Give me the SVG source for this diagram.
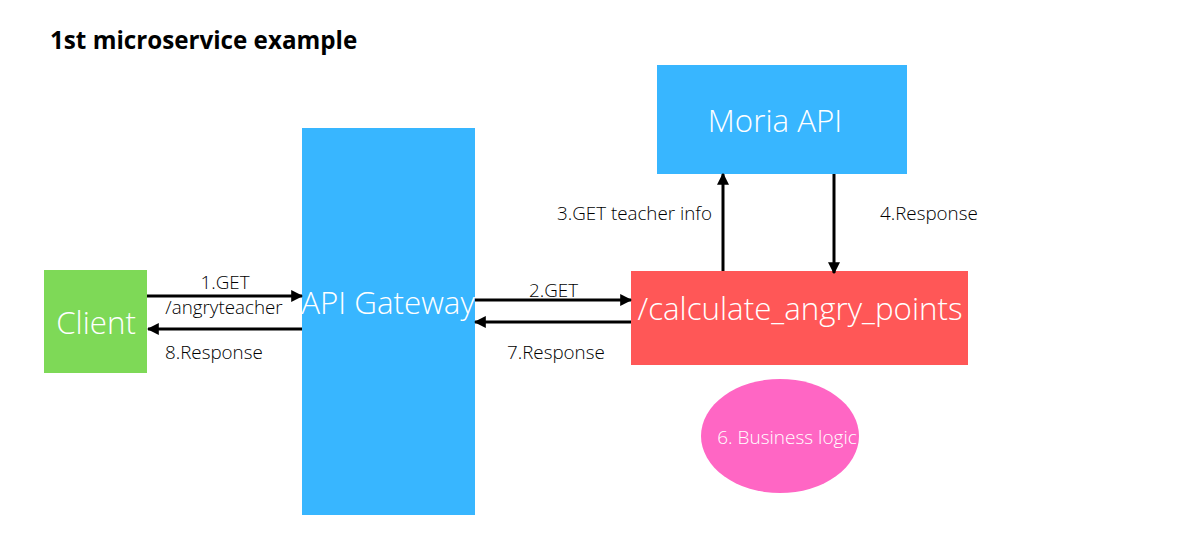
<svg xmlns="http://www.w3.org/2000/svg" width="1199" height="539" viewBox="0 0 1199 539">
<defs>
<marker id="ah" markerWidth="4" markerHeight="4" refX="3.6" refY="2" orient="auto" markerUnits="strokeWidth">
<path d="M0,0 L4,2 L0,4 Z" fill="#000"/>
</marker>
<style>
.big{font-family:"Open Sans","Noto Sans",sans-serif;fill:#fff;font-size:31.3px;font-weight:300;}
.lbl{font-family:"Open Sans","Noto Sans",sans-serif;fill:#000;font-size:18.8px;font-weight:300;}
.c{stroke:#000;stroke-width:3;fill:none;marker-end:url(#ah);}
</style>
</defs>
<rect width="1199" height="539" fill="#fff"/>
<text x="50" y="49" font-family="'Open Sans','Noto Sans',sans-serif" font-weight="bold" font-size="24.2" fill="#000">1st microservice example</text>
<g id="client">
<rect x="44" y="270" width="103" height="103" fill="#7ED957"/>
<text class="big" x="96" y="334" text-anchor="middle">Client</text>
</g>
<g id="gateway">
<rect x="302" y="128" width="173" height="387" fill="#38B6FF"/>
<text class="big" x="388" y="314" text-anchor="middle">API Gateway</text>
</g>
<g id="moria">
<rect x="657" y="65" width="250" height="109" fill="#38B6FF"/>
<text class="big" x="775" y="132" text-anchor="middle">Moria API</text>
</g>
<g id="calc">
<rect x="631" y="271" width="337" height="94" fill="#FF5757"/>
<text class="big" x="800" y="320" text-anchor="middle">/calculate_angry_points</text>
</g>
<g id="logic">
<ellipse cx="780" cy="436" rx="79" ry="57" fill="#FF66C4"/>
<text x="787" y="444" text-anchor="middle" font-family="'Open Sans','Noto Sans',sans-serif" font-size="19" font-weight="300" fill="#fff">6. Business logic</text>
</g>
<g id="connectors">
<line class="c" x1="147" y1="296" x2="302" y2="296"/>
<line class="c" x1="302" y1="329" x2="148" y2="329"/>
<line class="c" x1="475" y1="300" x2="631" y2="300"/>
<line class="c" x1="631" y1="322" x2="475" y2="322"/>
<line class="c" x1="723" y1="271" x2="723" y2="174"/>
<line class="c" x1="834" y1="174" x2="834" y2="273"/>
<text class="lbl" x="225" y="289" text-anchor="middle">1.GET</text>
<text class="lbl" x="224" y="314" text-anchor="middle">/angryteacher</text>
<text class="lbl" x="165" y="359">8.Response</text>
<text class="lbl" x="529" y="297">2.GET</text>
<text class="lbl" x="507" y="359">7.Response</text>
<text class="lbl" x="557" y="220">3.GET teacher info</text>
<text class="lbl" x="880" y="220">4.Response</text>
</g>
</svg>
